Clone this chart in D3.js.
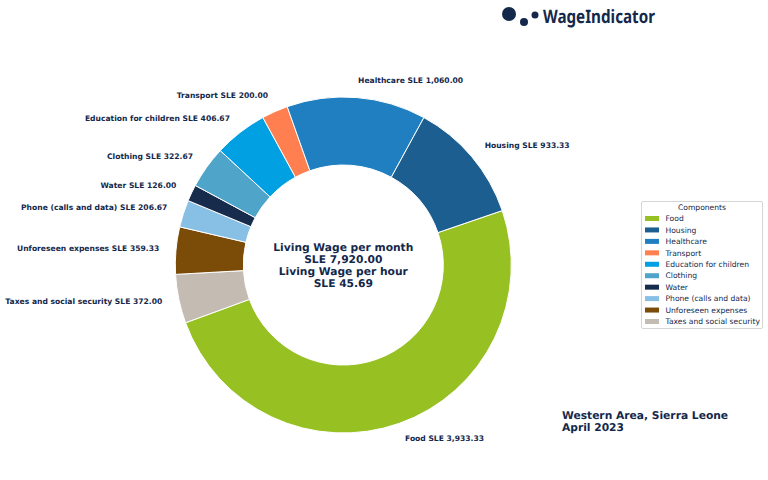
<!DOCTYPE html>
<html><head><meta charset="utf-8">
<script src="https://cdn.jsdelivr.net/npm/d3@7"></script>
<style>html,body{margin:0;padding:0;background:#fff}svg{display:block}text{font-family:"DejaVu Sans";fill:#14284B;text-rendering:geometricPrecision}</style>
</head><body><svg id="c" width="768" height="480"></svg>
<script>
const categories=["Food","Housing","Healthcare","Transport","Education for children","Clothing","Water","Phone (calls and data)","Unforeseen expenses","Taxes and social security"];
const values=[3933.33,933.33,1060,200,406.67,322.67,126,206.67,359.33,372];
const valueLabels=["3,933.33","933.33","1,060.00","200.00","406.67","322.67","126.00","206.67","359.33","372.00"];
const colors=["#97C122","#1B5E8F","#1F7FC0","#FF7F50","#00A0E3","#4FA5C9","#172C4D","#88BFE4","#7B4B08","#C4BCB2"];
const centerLines=["Living Wage per month","SLE 7,920.00","Living Wage per hour","SLE 45.69"];
const placeLines=["Western Area, Sierra Leone","April 2023"];
const legendTitle="Components";
const brand="WageIndicator";

const svg=d3.select("#c");
const cx=343.3,cy=265,R=168,r=100;
const data=categories.map((c,i)=>({c,v:values[i],l:valueLabels[i],col:colors[i]}));
// Food starts just above 3 o'clock; the pie is listed so that Housing ends where Food starts
const start=(90-18.9)*Math.PI/180;
const order=[0,9,8,7,6,5,4,3,2,1].map(i=>data[i]);
const pie=d3.pie().value(d=>d.v).sort(null).startAngle(start).endAngle(start+2*Math.PI);
const arcs=pie(order);
const g=svg.append("g").attr("transform",`translate(${cx},${cy})`);
const arc=d3.arc().innerRadius(r).outerRadius(R);
g.selectAll("path").data(arcs).join("path").attr("d",arc).attr("fill",d=>d.data.col).attr("stroke","#fff").attr("stroke-width",1);
const labelArc=d3.arc().innerRadius(R*1.1).outerRadius(R*1.1);
g.selectAll("text.l").data(arcs).join("text").attr("class","l")
 .attr("x",d=>labelArc.centroid(d)[0]).attr("y",d=>labelArc.centroid(d)[1]-0.8)
 .attr("dy","0.36em").attr("text-anchor",d=>labelArc.centroid(d)[0]>=0?"start":"end")
 .attr("font-size",7.6).attr("font-weight","bold")
 .text(d=>`${d.data.c} SLE ${d.data.l}`);
const rowC=d3.scalePoint().domain(d3.range(centerLines.length)).range([247,283]);
svg.selectAll("text.c").data(centerLines).join("text").attr("class","c")
 .attr("x",cx).attr("y",(d,i)=>rowC(i)).attr("dy","0.36em").attr("text-anchor","middle")
 .attr("font-size",10.7).attr("font-weight","bold").text(d=>d);
svg.selectAll("text.p").data(placeLines).join("text").attr("class","p")
 .attr("x",562).attr("y",(d,i)=>415+i*12.5).attr("dy","0.36em")
 .attr("font-size",10.7).attr("font-weight","bold").text(d=>d);
// legend
const lg=svg.append("g");
lg.append("rect").attr("x",641.5).attr("y",201.5).attr("width",121).attr("height",127).attr("fill","#fff").attr("stroke","#d5d5d5").attr("stroke-width",1).attr("rx",1.5);
lg.append("text").attr("x",702).attr("y",207).attr("dy","0.36em").attr("text-anchor","middle").attr("font-size",7.6).text(legendTitle);
const rowL=d3.scalePoint().domain(categories).range([218.5,321.5]);
lg.selectAll("rect.s").data(data).join("rect").attr("class","s").attr("x",645).attr("y",d=>rowL(d.c)-2.5).attr("width",14).attr("height",5).attr("fill",d=>d.col);
lg.selectAll("text.t").data(data).join("text").attr("class","t").attr("x",665.5).attr("y",d=>rowL(d.c)).attr("dy","0.36em").attr("font-size",7.6).text(d=>d.c);
// logo
svg.append("circle").attr("cx",509).attr("cy",14).attr("r",7).attr("fill","#14284B");
svg.append("circle").attr("cx",524).attr("cy",22).attr("r",4).attr("fill","#14284B");
svg.append("circle").attr("cx",535).attr("cy",15).attr("r",3.5).attr("fill","#14284B");
svg.append("text").attr("x",543).attr("y",23).attr("textLength",112).attr("lengthAdjust","spacingAndGlyphs")
 .style("font-family","'Noto Sans'").attr("font-weight","bold").attr("font-size",18.5).text(brand);
</script></body></html>
